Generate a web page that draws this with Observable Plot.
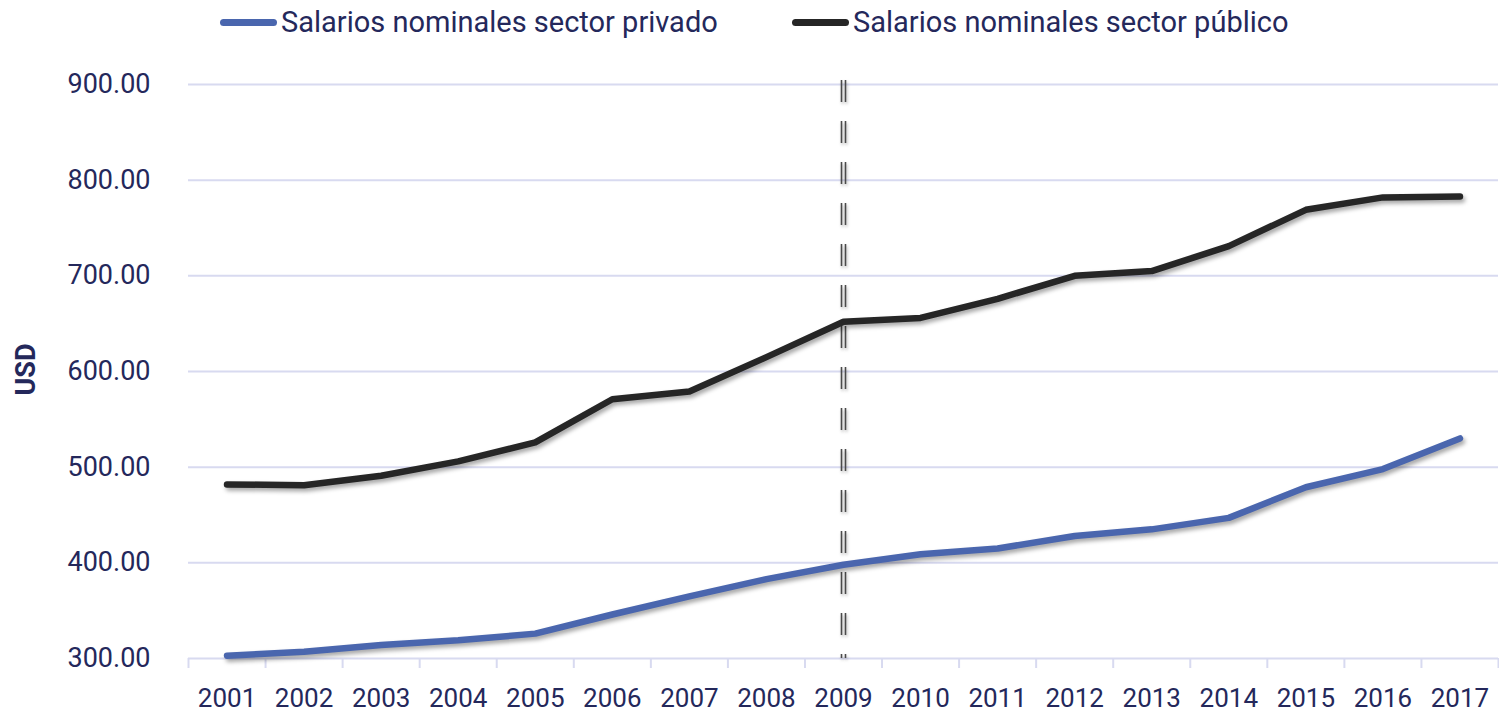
<!DOCTYPE html>
<html>
<head>
<meta charset="utf-8">
<script src="https://cdn.jsdelivr.net/npm/d3@7"></script>
<script src="https://cdn.jsdelivr.net/npm/@observablehq/plot@0.6"></script>
<style>
  html, body { margin: 0; padding: 0; background: #ffffff; }
  body { width: 1499px; height: 715px; overflow: hidden; font-family: Roboto, "Open Sans", sans-serif; }
  #legend { position: relative; height: 50px; width: 1499px; }
  .sw { position: absolute; height: 7px; border-radius: 4px; top: 19px; }
  .lt { position: absolute; top: 7px; font-size: 29px; line-height: 30px; color: #24285b; white-space: nowrap; }
  #chart svg [aria-label="line"] { filter: drop-shadow(2px 3px 2px rgba(0,0,0,0.35)); }
  #chart svg [aria-label="rule"] { filter: drop-shadow(1px 2px 1.5px rgba(0,0,0,0.3)); }
</style>
</head>
<body>
<div id="legend"></div>
<div id="chart"></div>
<script>
// ---- data ----
const years = [2001, 2002, 2003, 2004, 2005, 2006, 2007, 2008, 2009, 2010, 2011, 2012, 2013, 2014, 2015, 2016, 2017];
const privado = [303, 307, 314, 319, 326, 346, 365, 383, 398, 409, 415, 428, 435, 447, 479, 498, 530];
const publico = [482, 481, 491, 506, 526, 571, 579, 615, 652, 656, 676, 700, 705, 731, 769, 782, 783];
const seriesNames = ["Salarios nominales sector privado", "Salarios nominales sector público"];
const seriesColors = ["#4a66ae", "#262626"];
const yTicks = [300, 400, 500, 600, 700, 800, 900];
const markerYear = 2009;
const yLabel = "USD";

// ---- table built from arrays ----
const data = years.flatMap((yr, i) => [
  {year: yr, value: privado[i], serie: seriesNames[0]},
  {year: yr, value: publico[i], serie: seriesNames[1]}
]);
const bounds = [years[0] - 0.5, ...years.map(y => y + 0.5)];

// ---- legend ----
const legend = document.getElementById("legend");
const legendLayout = [{sw: 220, w: 57, tx: 281}, {sw: 792, w: 57, tx: 853}];
seriesNames.forEach((name, i) => {
  const s = document.createElement("div");
  s.className = "sw";
  s.style.left = legendLayout[i].sw + "px";
  s.style.width = legendLayout[i].w + "px";
  s.style.background = seriesColors[i];
  legend.appendChild(s);
  const t = document.createElement("div");
  t.className = "lt";
  t.style.left = legendLayout[i].tx + "px";
  t.textContent = name;
  legend.appendChild(t);
});

const gridColor = "#d8daf0";
const textColor = "#24285b";

const chart = Plot.plot({
  width: 1499,
  height: 665,
  marginTop: 34,
  marginBottom: 57,
  marginLeft: 188,
  marginRight: 1,
  style: {fontFamily: "Roboto, 'Open Sans', sans-serif", fontSize: "27px", color: textColor, background: "#ffffff"},
  x: {type: "linear", domain: [bounds[0], bounds[bounds.length - 1]]},
  y: {domain: [yTicks[0], yTicks[yTicks.length - 1]]},
  color: {domain: seriesNames, range: seriesColors},
  marks: [
    Plot.gridY(yTicks, {stroke: gridColor, strokeOpacity: 1, strokeWidth: 2}),
    Plot.axisX(bounds, {tickSize: 10, text: null, stroke: gridColor, strokeOpacity: 1, strokeWidth: 2, label: null}),
    Plot.axisX(years, {tickSize: 0, tickPadding: 30, tickFormat: d => String(d), fill: textColor, fontSize: 26, label: null}),
    Plot.axisY(yTicks, {tickSize: 0, tickPadding: 38, tickFormat: d3.format(".2f"), fill: textColor, fontSize: 27, label: null}),
    Plot.text([yLabel], {text: d => d, frameAnchor: "left", rotate: -90, dx: -162, dy: 24, fontWeight: "bold", fontSize: 27, fill: textColor}),
    Plot.ruleX([markerYear], {dx: -2, stroke: "#4a4a4a", strokeWidth: 1.6, strokeDasharray: "22 19", insetTop: -4}),
    Plot.ruleX([markerYear], {dx: 2, stroke: "#4a4a4a", strokeWidth: 1.6, strokeDasharray: "22 19", insetTop: -4}),
    Plot.line(data, {x: "year", y: "value", z: "serie", stroke: "serie", strokeWidth: 6.5, strokeLinecap: "round", strokeLinejoin: "round"})
  ]
});
document.getElementById("chart").appendChild(chart);
</script>
</body>
</html>
